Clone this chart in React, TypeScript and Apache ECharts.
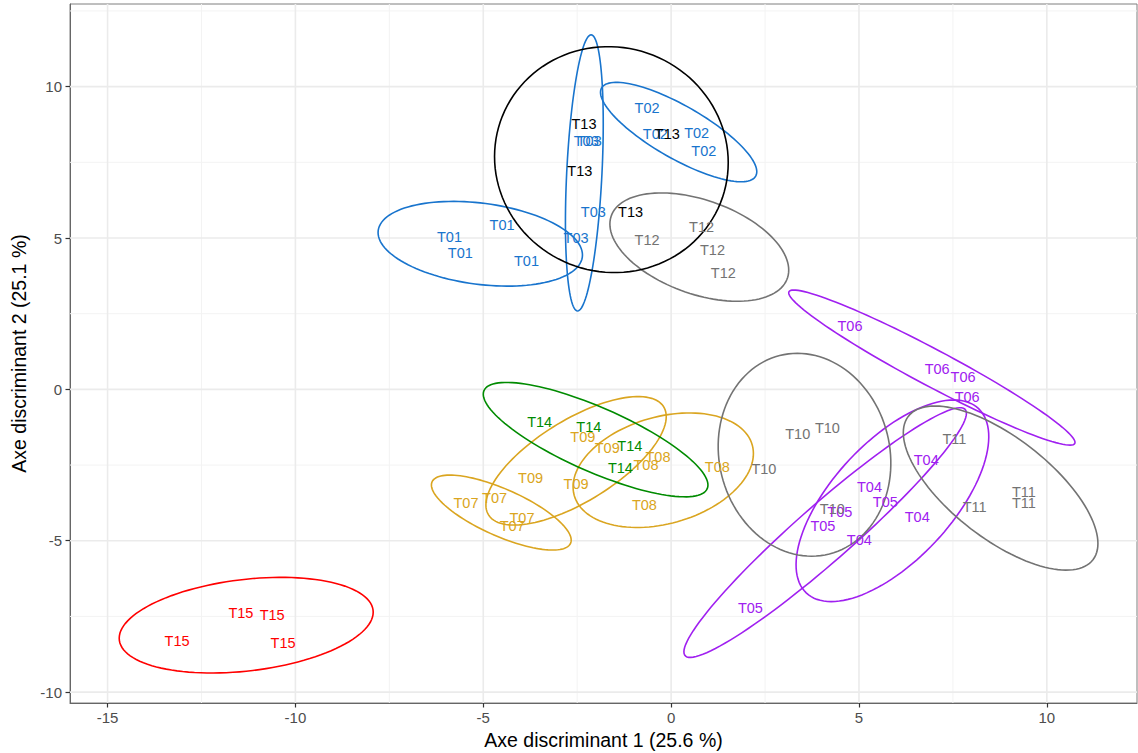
import { useEffect, useRef } from "react";
import * as echarts from "echarts";

// axis ranges and gridline values (ggplot theme_bw look)
const X_MIN = -16;
const X_MAX = 12.4;
const Y_MIN = -10.36;
const Y_MAX = 12.73;
const xMajor = [-15, -10, -5, 0, 5, 10];
const xMinor = [-12.5, -7.5, -2.5, 2.5, 7.5];
const yMajor = [-10, -5, 0, 5, 10];
const yMinor = [-7.5, -2.5, 2.5, 7.5, 12.5];

const groupColors: Record<string, string> = {
  T01: "#1874CD",
  T02: "#1874CD",
  T03: "#1874CD",
  T04: "#A020F0",
  T05: "#A020F0",
  T06: "#A020F0",
  T07: "#DAA520",
  T08: "#DAA520",
  T09: "#DAA520",
  T10: "#737373",
  T11: "#737373",
  T12: "#737373",
  T13: "#000000",
  T14: "#008B00",
  T15: "#FF0000"
};

// individual observations: [axe 1, axe 2, treatment]
const pointLabels: [number, number, string][] = [
  [-5.9, 5.02, "T01"],
  [-5.61, 4.51, "T01"],
  [-4.5, 5.42, "T01"],
  [-3.85, 4.25, "T01"],
  [-0.64, 9.28, "T02"],
  [-0.42, 8.43, "T02"],
  [0.68, 8.46, "T02"],
  [0.87, 7.88, "T02"],
  [-2.26, 8.2, "T03"],
  [-2.18, 8.2, "T03"],
  [-2.07, 5.87, "T03"],
  [-2.53, 5.01, "T03"],
  [6.79, -2.34, "T04"],
  [5.28, -3.24, "T04"],
  [5.01, -4.98, "T04"],
  [6.55, -4.21, "T04"],
  [5.7, -3.71, "T05"],
  [4.49, -4.06, "T05"],
  [4.04, -4.51, "T05"],
  [2.11, -7.21, "T05"],
  [4.76, 2.1, "T06"],
  [7.08, 0.67, "T06"],
  [7.77, 0.42, "T06"],
  [7.88, -0.24, "T06"],
  [-5.46, -3.75, "T07"],
  [-4.7, -3.6, "T07"],
  [-3.97, -4.24, "T07"],
  [-4.23, -4.52, "T07"],
  [-0.35, -2.23, "T08"],
  [-0.67, -2.5, "T08"],
  [1.23, -2.56, "T08"],
  [-0.71, -3.82, "T08"],
  [-2.35, -1.57, "T09"],
  [-1.7, -1.95, "T09"],
  [-3.74, -2.94, "T09"],
  [-2.53, -3.11, "T09"],
  [3.37, -1.49, "T10"],
  [4.16, -1.29, "T10"],
  [2.47, -2.62, "T10"],
  [4.29, -3.96, "T10"],
  [7.54, -1.64, "T11"],
  [8.08, -3.9, "T11"],
  [9.39, -3.38, "T11"],
  [9.39, -3.75, "T11"],
  [-0.64, 4.93, "T12"],
  [0.81, 5.37, "T12"],
  [1.1, 4.6, "T12"],
  [1.39, 3.83, "T12"],
  [-2.32, 8.76, "T13"],
  [-2.43, 7.2, "T13"],
  [-0.1, 8.43, "T13"],
  [-1.08, 5.86, "T13"],
  [-3.5, -1.09, "T14"],
  [-2.19, -1.24, "T14"],
  [-1.1, -1.87, "T14"],
  [-1.35, -2.59, "T14"],
  [-11.45, -7.38, "T15"],
  [-10.62, -7.46, "T15"],
  [-13.15, -8.32, "T15"],
  [-10.33, -8.39, "T15"]
];

// confidence ellipses: centre and two conjugate semi-diameters (data units)
const ellipseGroups = ["T01", "T02", "T03", "T04", "T05", "T06", "T07", "T08", "T09", "T10", "T11", "T12", "T13", "T14", "T15"];
const ellipseCenters: [number, number][] = [
  [-5.08, 4.81],
  [0.2, 8.5],
  [-2.31, 7.15],
  [5.89, -3.68],
  [4.1, -4.73],
  [6.94, 0.72],
  [-4.52, -4.07],
  [-0.21, -2.67],
  [-2.53, -2.36],
  [3.55, -2.16],
  [8.77, -3.26],
  [0.75, 4.7],
  [-1.59, 7.59],
  [-2.01, -1.66],
  [-11.31, -7.79]
];
const ellipseAxisA: [number, number][] = [
  [2.72, -0.37],
  [2.08, -1.31],
  [0.47, 0],
  [1.98, 0],
  [3.76, 3.94],
  [3.81, -2.47],
  [1.86, -0.91],
  [2.4, 0.55],
  [2.4, 1.46],
  [2.29, 0],
  [2.59, -1.83],
  [2.38, -0.76],
  [3.11, -0.1],
  [2.99, -1.5],
  [3.38, 0.43]
];
const ellipseAxisB: [number, number][] = [
  [0, 1.35],
  [0, 0.99],
  [0.18, 4.56],
  [1.63, 3.33],
  [0, 1.22],
  [0, 0.68],
  [0, 0.84],
  [0, 1.81],
  [0, 1.54],
  [-0.19, 3.35],
  [0, 2.0],
  [0, 1.62],
  [0, 3.73],
  [0, 1.15],
  [0, 1.52]
];

const FONT = "'Liberation Sans', Arial, sans-serif";

function gridSeries(values: number[], vertical: boolean, color: string, width: number) {
  return {
    type: "custom" as const,
    silent: true,
    z: 1,
    data: values.map((v) => (vertical ? [v, Y_MIN] : [X_MIN, v])),
    renderItem: (_p: any, api: any) => {
      const v = api.value(vertical ? 0 : 1);
      const a = vertical ? api.coord([v, Y_MIN]) : api.coord([X_MIN, v]);
      const b = vertical ? api.coord([v, Y_MAX]) : api.coord([X_MAX, v]);
      return {
        type: "line",
        shape: { x1: a[0], y1: a[1], x2: b[0], y2: b[1] },
        style: { stroke: color, lineWidth: width }
      };
    }
  };
}

export default function App() {
  const ref = useRef<HTMLDivElement | null>(null);

  useEffect(() => {
    if (!ref.current) return;
    const chart = echarts.init(ref.current, undefined, { renderer: "svg" });

    const option: echarts.EChartsOption = {
      animation: false,
      backgroundColor: "#ffffff",
      grid: {
        left: 70,
        right: 1,
        top: 4,
        bottom: 50,
        outerBoundsMode: "none",
        containLabel: false,
        show: true,
        borderColor: "#7f7f7f",
        borderWidth: 1,
        backgroundColor: "transparent"
      } as any,
      xAxis: {
        type: "value",
        min: X_MIN,
        max: X_MAX,
        name: "Axe discriminant 1 (25.6 %)",
        nameLocation: "middle",
        nameGap: 26,
        nameTextStyle: { color: "#000", fontSize: 19.5, fontFamily: FONT },
        axisLine: { show: true, onZero: false, lineStyle: { color: "#666", width: 1 } },
        axisTick: { show: true, length: 4.5, customValues: xMajor, lineStyle: { color: "#333", width: 1.2 } },
        axisLabel: { customValues: xMajor, color: "#4d4d4d", fontSize: 15, fontFamily: FONT, margin: 7 },
        splitLine: { show: false }
      },
      yAxis: {
        type: "value",
        min: Y_MIN,
        max: Y_MAX,
        name: "Axe discriminant 2 (25.1 %)",
        nameLocation: "middle",
        nameGap: 39,
        nameTextStyle: { color: "#000", fontSize: 19.5, fontFamily: FONT },
        axisLine: { show: true, onZero: false, lineStyle: { color: "#666", width: 1 } },
        axisTick: { show: true, length: 4.5, customValues: yMajor, lineStyle: { color: "#333", width: 1.2 } },
        axisLabel: { customValues: yMajor, color: "#4d4d4d", fontSize: 15, fontFamily: FONT, margin: 8 },
        splitLine: { show: false }
      },
      series: [
        gridSeries(xMinor, true, "#f3f3f3", 1),
        gridSeries(yMinor, false, "#f3f3f3", 1),
        gridSeries(xMajor, true, "#ebebeb", 1.6),
        gridSeries(yMajor, false, "#ebebeb", 1.6),
        {
          type: "custom",
          silent: true,
          z: 3,
          data: ellipseCenters.map((c) => [c[0], c[1]]),
          renderItem: (params: any, api: any) => {
            const i = params.dataIndex;
            const [cx, cy] = ellipseCenters[i];
            const [ax, ay] = ellipseAxisA[i];
            const [bx, by] = ellipseAxisB[i];
            const pts: number[][] = [];
            for (let k = 0; k < 120; k++) {
              const t = (k / 120) * Math.PI * 2;
              pts.push(api.coord([cx + Math.cos(t) * ax + Math.sin(t) * bx, cy + Math.cos(t) * ay + Math.sin(t) * by]));
            }
            return {
              type: "polygon",
              shape: { points: pts },
              style: { fill: "none", stroke: groupColors[ellipseGroups[i]], lineWidth: 1.6 }
            };
          }
        },
        {
          type: "custom",
          silent: true,
          z: 4,
          data: pointLabels.map((p) => [p[0], p[1]]),
          renderItem: (params: any, api: any) => {
            const p = pointLabels[params.dataIndex];
            const pos = api.coord([p[0], p[1]]);
            return {
              type: "text",
              x: pos[0],
              y: pos[1],
              style: {
                text: p[2],
                fill: groupColors[p[2]],
                fontSize: 14.5,
                fontFamily: FONT,
                align: "center",
                verticalAlign: "middle"
              }
            };
          }
        }
      ]
    };

    chart.setOption(option);
    return () => {
      chart.dispose();
    };
  }, []);

  return <div ref={ref} style={{ position: "fixed", left: 0, top: 0, width: 1138, height: 753 }} />;
}
